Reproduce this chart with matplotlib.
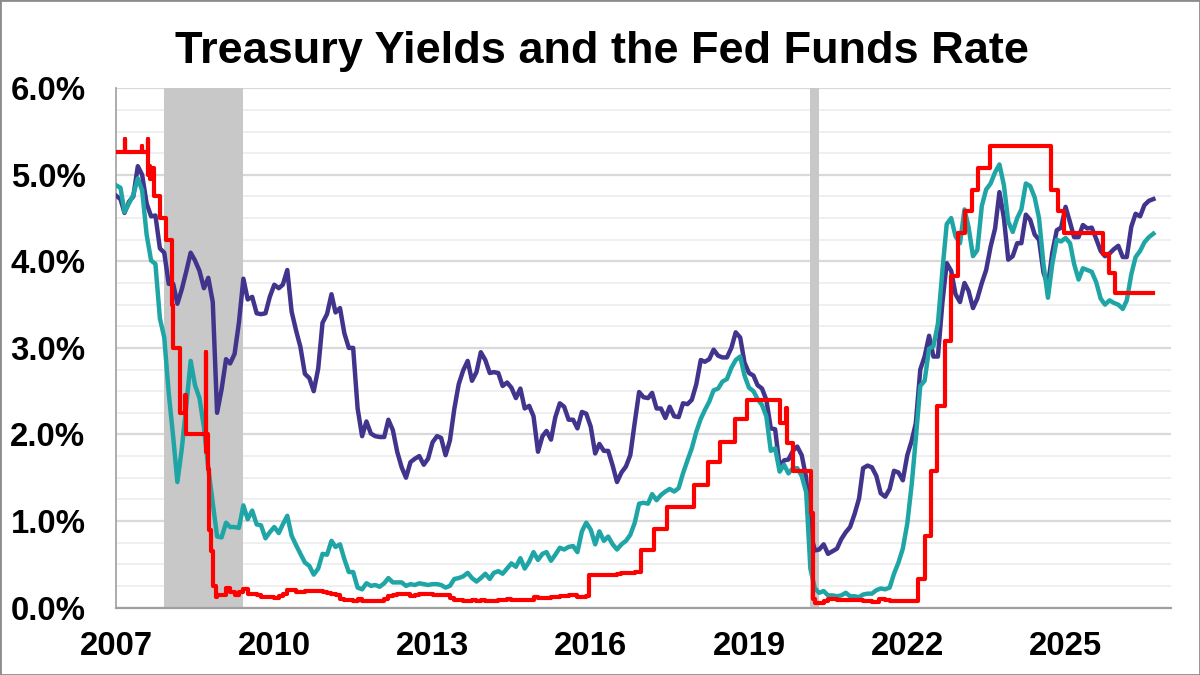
import matplotlib
matplotlib.use("Agg")
import matplotlib.pyplot as plt
import pandas as pd
import numpy as np
from matplotlib.patches import Rectangle

# ---------------- data ----------------
title = "Treasury Yields and the Fed Funds Rate"
series_start = "2007-01-01"

# 10-year Treasury yield (%), monthly
t10_2007 = [4.76, 4.72, 4.56, 4.69, 4.75, 5.10, 5.00, 4.67, 4.52, 4.53, 4.15, 4.10]
t10_2008 = [3.74, 3.74, 3.51, 3.68, 3.88, 4.10, 4.01, 3.89, 3.69, 3.81, 3.53, 2.25]
t10_2009 = [2.52, 2.87, 2.82, 2.93, 3.29, 3.80, 3.56, 3.59, 3.40, 3.39, 3.40, 3.59]
t10_2010 = [3.73, 3.69, 3.73, 3.90, 3.42, 3.20, 3.01, 2.70, 2.65, 2.50, 2.76, 3.29]
t10_2011 = [3.39, 3.62, 3.41, 3.46, 3.17, 3.00, 3.00, 2.30, 1.98, 2.15, 2.01, 1.98]
t10_2012 = [1.97, 1.97, 2.17, 2.05, 1.80, 1.62, 1.50, 1.68, 1.72, 1.75, 1.65, 1.72]
t10_2013 = [1.91, 1.98, 1.96, 1.76, 1.93, 2.30, 2.58, 2.74, 2.85, 2.62, 2.72, 2.95]
t10_2014 = [2.86, 2.71, 2.72, 2.71, 2.56, 2.60, 2.54, 2.42, 2.53, 2.30, 2.33, 2.21]
t10_2015 = [1.80, 1.98, 2.04, 1.94, 2.20, 2.36, 2.32, 2.17, 2.17, 2.07, 2.26, 2.24]
t10_2016 = [2.09, 1.78, 1.89, 1.81, 1.81, 1.64, 1.45, 1.56, 1.63, 1.76, 2.14, 2.49]
t10_2017 = [2.43, 2.42, 2.48, 2.30, 2.30, 2.19, 2.32, 2.21, 2.20, 2.36, 2.35, 2.40]
t10_2018 = [2.58, 2.86, 2.84, 2.87, 2.98, 2.91, 2.89, 2.89, 3.00, 3.18, 3.12, 2.83]
t10_2019 = [2.71, 2.68, 2.57, 2.53, 2.40, 2.07, 2.06, 1.63, 1.70, 1.71, 1.81, 1.86]
t10_2020 = [1.76, 1.50, 0.87, 0.66, 0.67, 0.73, 0.62, 0.65, 0.68, 0.79, 0.87, 0.93]
t10_2021 = [1.08, 1.26, 1.61, 1.64, 1.62, 1.52, 1.32, 1.28, 1.37, 1.58, 1.56, 1.47]
t10_2022 = [1.76, 1.93, 2.13, 2.75, 2.90, 3.14, 2.90, 2.90, 3.52, 3.98, 3.89, 3.62]
t10_2023 = [3.53, 3.75, 3.66, 3.46, 3.57, 3.75, 3.90, 4.17, 4.38, 4.80, 4.50, 4.02]
t10_2024 = [4.06, 4.21, 4.21, 4.54, 4.48, 4.31, 4.25, 3.87, 3.72, 4.10, 4.36, 4.39]
t10_2025 = [4.63, 4.45, 4.28, 4.28, 4.42, 4.38, 4.39, 4.26, 4.12, 4.06, 4.09, 4.14]
t10_2026 = [4.18, 4.05, 4.05, 4.40, 4.55, 4.52, 4.65, 4.70, 4.72]

# 2-year Treasury yield (%), monthly
t2_2007 = [4.88, 4.85, 4.57, 4.67, 4.77, 4.96, 4.82, 4.31, 4.01, 3.97, 3.34, 3.12]
t2_2008 = [2.48, 1.97, 1.45, 1.84, 2.32, 2.85, 2.57, 2.42, 2.08, 1.61, 1.21, 0.82]
t2_2009 = [0.81, 0.98, 0.93, 0.93, 0.92, 1.18, 1.02, 1.12, 0.96, 0.95, 0.80, 0.87]
t2_2010 = [0.93, 0.86, 0.96, 1.06, 0.83, 0.72, 0.62, 0.52, 0.48, 0.38, 0.45, 0.62]
t2_2011 = [0.61, 0.77, 0.70, 0.73, 0.56, 0.41, 0.41, 0.23, 0.21, 0.28, 0.25, 0.26]
t2_2012 = [0.24, 0.28, 0.34, 0.29, 0.29, 0.29, 0.25, 0.27, 0.26, 0.28, 0.27, 0.26]
t2_2013 = [0.27, 0.27, 0.26, 0.23, 0.25, 0.33, 0.34, 0.36, 0.40, 0.34, 0.30, 0.34]
t2_2014 = [0.39, 0.33, 0.40, 0.42, 0.39, 0.45, 0.51, 0.47, 0.57, 0.45, 0.53, 0.64]
t2_2015 = [0.55, 0.62, 0.64, 0.54, 0.61, 0.69, 0.67, 0.70, 0.71, 0.64, 0.88, 0.98]
t2_2016 = [0.90, 0.73, 0.88, 0.77, 0.82, 0.73, 0.67, 0.73, 0.77, 0.84, 0.98, 1.20]
t2_2017 = [1.21, 1.20, 1.31, 1.24, 1.30, 1.34, 1.37, 1.34, 1.38, 1.55, 1.70, 1.84]
t2_2018 = [2.03, 2.18, 2.28, 2.38, 2.51, 2.53, 2.61, 2.64, 2.77, 2.86, 2.90, 2.68]
t2_2019 = [2.54, 2.50, 2.41, 2.34, 2.21, 1.81, 1.84, 1.57, 1.65, 1.55, 1.61, 1.61]
t2_2020 = [1.52, 1.33, 0.45, 0.22, 0.17, 0.19, 0.14, 0.14, 0.13, 0.14, 0.17, 0.13]
t2_2021 = [0.13, 0.12, 0.15, 0.16, 0.16, 0.20, 0.22, 0.21, 0.23, 0.39, 0.52, 0.68]
t2_2022 = [0.97, 1.43, 1.95, 2.56, 2.62, 2.99, 3.02, 3.28, 3.89, 4.43, 4.50, 4.29]
t2_2023 = [4.21, 4.60, 4.40, 4.06, 4.13, 4.64, 4.83, 4.90, 5.03, 5.12, 4.88, 4.46]
t2_2024 = [4.34, 4.50, 4.60, 4.90, 4.87, 4.74, 4.50, 3.97, 3.58, 3.97, 4.25, 4.23]
t2_2025 = [4.27, 4.21, 3.97, 3.79, 3.92, 3.90, 3.88, 3.76, 3.57, 3.50, 3.55, 3.52]
t2_2026 = [3.50, 3.45, 3.55, 3.85, 4.05, 4.12, 4.22, 4.28, 4.32]

# Effective fed funds rate (%), step changes
ff_pre_dates = ["2007-01-01", "2007-03-01", "2007-03-03", "2007-06-29", "2007-07-02",
                "2007-08-09", "2007-08-13", "2007-08-20", "2007-08-27", "2007-09-04",
                "2007-09-18", "2007-10-31", "2007-12-11", "2008-01-22", "2008-01-30",
                "2008-03-18", "2008-04-24", "2008-04-28", "2008-04-30", "2008-09-16",
                "2008-09-18", "2008-09-22", "2008-10-01", "2008-10-08", "2008-10-20",
                "2008-11-06", "2008-11-20", "2008-12-01"]
ff_pre_vals = [5.26, 5.41, 5.26, 5.33, 5.26,
               5.41, 5.00, 5.10, 4.95, 5.08,
               4.75, 4.50, 4.25, 3.50, 3.00,
               2.25, 2.45, 2.30, 2.00, 2.95,
               1.80, 2.00, 1.60, 0.90, 0.65,
               0.25, 0.12, 0.15]
ff_zlb_start = "2009-01-01"   # monthly levels Jan 2009 - Nov 2015
ff_zlb_vals = [0.15, 0.22, 0.18, 0.15, 0.18, 0.21, 0.16, 0.16, 0.15, 0.12, 0.12, 0.12,
               0.11, 0.13, 0.16, 0.20, 0.20, 0.18, 0.18, 0.19, 0.19, 0.19, 0.19, 0.18,
               0.17, 0.16, 0.14, 0.10, 0.09, 0.09, 0.07, 0.10, 0.08, 0.07, 0.08, 0.07,
               0.08, 0.10, 0.13, 0.14, 0.16, 0.16, 0.16, 0.13, 0.14, 0.16, 0.16, 0.16,
               0.14, 0.15, 0.14, 0.15, 0.11, 0.09, 0.09, 0.08, 0.08, 0.09, 0.08, 0.09,
               0.07, 0.07, 0.08, 0.09, 0.09, 0.10, 0.09, 0.09, 0.09, 0.09, 0.09, 0.12,
               0.11, 0.11, 0.11, 0.12, 0.12, 0.13, 0.13, 0.14, 0.14, 0.12, 0.12]
ff_post_dates = ["2015-12-01", "2015-12-17", "2016-03-01", "2016-07-01", "2016-08-01",
                 "2016-11-01", "2016-12-15", "2017-03-16", "2017-06-15", "2017-12-14",
                 "2018-03-22", "2018-06-14", "2018-09-27", "2018-12-20", "2019-08-01",
                 "2019-09-17", "2019-09-19", "2019-10-31", "2020-03-04", "2020-03-16",
                 "2020-03-20", "2020-04-01", "2020-06-01", "2020-07-01", "2020-09-01",
                 "2021-03-01", "2021-05-01", "2021-06-17", "2021-08-01", "2021-09-01",
                 "2022-03-17", "2022-05-05", "2022-06-16", "2022-07-28", "2022-09-22",
                 "2022-11-03", "2022-12-15", "2023-02-02", "2023-03-23", "2023-05-04",
                 "2023-07-27", "2024-09-19", "2024-11-08", "2024-12-19", "2025-09-18",
                 "2025-10-30", "2025-12-11", "2026-09-01"]
ff_post_vals = [0.13, 0.37, 0.37, 0.39, 0.40,
                0.41, 0.66, 0.91, 1.16, 1.42,
                1.68, 1.91, 2.18, 2.40, 2.13,
                2.30, 1.90, 1.58, 1.09, 0.25,
                0.10, 0.05, 0.08, 0.10, 0.09,
                0.07, 0.06, 0.10, 0.09, 0.08,
                0.33, 0.83, 1.58, 2.33, 3.08,
                3.83, 4.33, 4.58, 4.83, 5.08,
                5.33, 4.83, 4.58, 4.33, 4.09,
                3.87, 3.64, 3.64]

recessions = [("2007-12-01", "2009-06-01"), ("2020-03-01", "2020-05-01")]
year_ticks = [2007, 2010, 2013, 2016, 2019, 2022, 2025]
y_ticks = [0, 1, 2, 3, 4, 5, 6]

# ---------------- assemble ----------------
t10 = (t10_2007 + t10_2008 + t10_2009 + t10_2010 + t10_2011 + t10_2012 + t10_2013 +
       t10_2014 + t10_2015 + t10_2016 + t10_2017 + t10_2018 + t10_2019 + t10_2020 +
       t10_2021 + t10_2022 + t10_2023 + t10_2024 + t10_2025 + t10_2026)
t2 = (t2_2007 + t2_2008 + t2_2009 + t2_2010 + t2_2011 + t2_2012 + t2_2013 +
      t2_2014 + t2_2015 + t2_2016 + t2_2017 + t2_2018 + t2_2019 + t2_2020 +
      t2_2021 + t2_2022 + t2_2023 + t2_2024 + t2_2025 + t2_2026)
months = pd.date_range(series_start, periods=len(t10), freq="MS")
months2 = pd.date_range(series_start, periods=len(t2), freq="MS")

ff_dates = (list(pd.to_datetime(ff_pre_dates)) +
            list(pd.date_range(ff_zlb_start, periods=len(ff_zlb_vals), freq="MS")) +
            list(pd.to_datetime(ff_post_dates)))
ff_vals = ff_pre_vals + ff_zlb_vals + ff_post_vals

# ---------------- draw ----------------
plt.rcParams["font.family"] = ["Liberation Sans", "DejaVu Sans"]

W, H = 1200, 675
fig = plt.figure(figsize=(W / 100, H / 100), dpi=100)
fig.patch.set_facecolor("white")
ax = fig.add_axes([116 / W, 1 - 607.5 / H, (1171 - 116) / W, (607.5 - 88.3) / H])

for s, e in recessions:
    ax.axvspan(pd.Timestamp(s), pd.Timestamp(e), color="#c8c8c8", lw=0, zorder=1)

ax.plot(months, t10, color="#41348c", lw=3.2, zorder=3, solid_joinstyle="round")
ax.plot(months2, t2, color="#1fa5a5", lw=3.2, zorder=4, solid_joinstyle="round")
ax.step(ff_dates, ff_vals, where="post", color="#ff0000", lw=3.0, zorder=5)

ax.set_xlim(pd.Timestamp("2007-01-01"), pd.Timestamp("2027-01-01"))
ax.set_ylim(0, 6)

ax.set_yticks(y_ticks)
ax.set_yticklabels([f"{v:.1f}%" for v in y_ticks], fontsize=23.7, fontweight="bold")
ax.set_yticks(np.arange(0, 6.01, 0.25), minor=True)
ax.set_xticks([pd.Timestamp(f"{y}-01-01") for y in year_ticks])
ax.set_xticklabels([str(y) for y in year_ticks], fontsize=23.7, fontweight="bold")

ax.tick_params(axis="both", which="both", length=0)
ax.tick_params(axis="y", pad=22)
ax.tick_params(axis="x", pad=17)

ax.set_axisbelow(True)
ax.yaxis.grid(True, which="minor", color="#efefef", lw=1.4, zorder=0)
ax.yaxis.grid(True, which="major", color="#d9d9d9", lw=1.6, zorder=0)
ax.xaxis.grid(False)

for side in ["top", "right"]:
    ax.spines[side].set_visible(False)
ax.spines["left"].set_color("#a6a6a6")
ax.spines["left"].set_linewidth(1.3)
ax.spines["bottom"].set_color("#a0a0a0")
ax.spines["bottom"].set_linewidth(1.6)

fig.text(0.5017, 1 - 63.3 / H, title, ha="center", va="baseline",
         fontsize=32.5, fontweight="bold", color="black")

fig.patches.append(Rectangle((0, 0), 1, 1, transform=fig.transFigure, fill=False,
                             edgecolor="#8c8c8c", lw=2))

fig.savefig("out.png", dpi=100)
